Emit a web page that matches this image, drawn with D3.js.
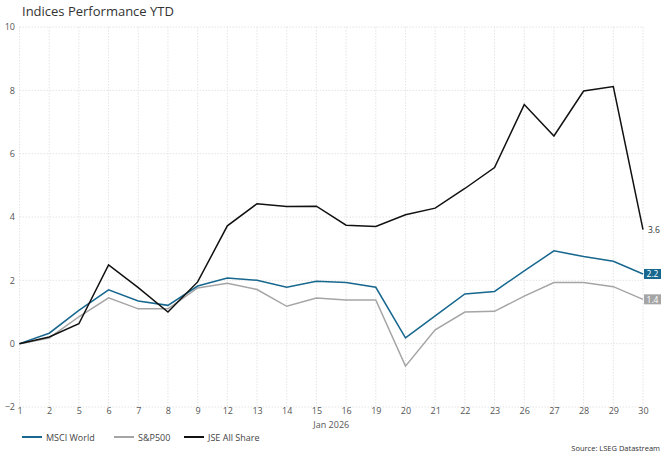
<!DOCTYPE html>
<html><head><meta charset="utf-8">
<script src="https://cdn.jsdelivr.net/npm/d3@7"></script>
<style>
html,body{margin:0;padding:0;background:#fff;}
svg{display:block;font-family:"Open Sans","Noto Sans",sans-serif;}
</style></head>
<body><svg id="c" width="667" height="456"></svg>
<script>
const categories = ["1","2","5","6","7","8","9","12","13","14","15","16","19","20","21","22","23","26","27","28","29","30"];
const msciWorld = [0,0.33,1.05,1.70,1.35,1.21,1.82,2.07,2.0,1.78,1.97,1.93,1.78,0.18,0.88,1.57,1.65,2.3,2.93,2.75,2.6,2.2];
const sp500     = [0,0.18,0.85,1.45,1.1,1.1,1.76,1.91,1.71,1.18,1.44,1.38,1.38,-0.71,0.44,1.0,1.02,1.5,1.93,1.93,1.8,1.4];
const jseAll    = [0,0.21,0.63,2.49,1.77,1.0,1.95,3.72,4.42,4.33,4.34,3.74,3.70,4.07,4.28,4.9,5.56,7.55,6.56,7.98,8.12,3.6];
const yTicks = [-2,0,2,4,6,8,10];
const seriesNames = ["MSCI World","S&P500","JSE All Share"];
const colors = ["#17678f","#a5a5a5","#111111"];
const endLabels = ["2.2","1.4","3.6"];

const svg = d3.select("#c");
const x = d3.scalePoint().domain(categories).range([19.5, 643]);
const y = d3.scaleLinear().domain([-2,10]).range([407, 27]);

// title
svg.append("text").attr("x",22).attr("y",16).attr("font-size",13).attr("fill","#333")
  .text("Indices Performance YTD");

// grid
const g = svg.append("g");
g.selectAll(".vg").data(categories).join("line")
  .attr("x1",d=>x(d)).attr("x2",d=>x(d)).attr("y1",y(10)).attr("y2",y(-2))
  .attr("stroke","#e4e4e4").attr("stroke-width",1).attr("stroke-dasharray","1.5,1.5");
g.selectAll(".hg").data(yTicks).join("line")
  .attr("x1",x(categories[0])).attr("x2",x(categories[categories.length-1]))
  .attr("y1",d=>y(d)).attr("y2",d=>y(d))
  .attr("stroke","#e4e4e4").attr("stroke-width",1).attr("stroke-dasharray","1.5,1.5");

// axes (text only, via d3 axes)
const yAxis = svg.append("g").attr("transform","translate(15,0)")
  .call(d3.axisLeft(y).tickValues(yTicks).tickSize(0).tickPadding(0));
yAxis.select(".domain").remove();
yAxis.selectAll("text").attr("font-size",9).attr("fill","#555").attr("font-family","Open Sans");

const xAxis = svg.append("g").attr("transform","translate(0,407)")
  .call(d3.axisBottom(x).tickSize(0).tickPadding(1));
xAxis.select(".domain").remove();
xAxis.selectAll("text").attr("font-size",9).attr("fill","#555").attr("font-family","Open Sans");

svg.append("text").attr("x",(x("15")+x("16"))/2).attr("y",428).attr("text-anchor","middle")
  .attr("font-size",9).attr("fill","#555").text("Jan 2026");

// lines
const data = [msciWorld, sp500, jseAll];
const line = d3.line().x((d,i)=>x(categories[i])).y(d=>y(d));
[1,0,2].forEach(k=>{
  svg.append("path").datum(data[k]).attr("d",line).attr("fill","none")
    .attr("stroke",colors[k]).attr("stroke-width",1.5).attr("stroke-linejoin","miter");
});

// end labels
const lastX = x(categories[categories.length-1]);
[0,1].forEach(k=>{
  const v = data[k][data[k].length-1];
  svg.append("rect").attr("x",lastX+1).attr("y",y(v)-5).attr("width",17).attr("height",10)
    .attr("fill",colors[k]);
  svg.append("text").attr("x",lastX+9.5).attr("y",y(v)+3.2).attr("text-anchor","middle")
    .attr("font-size",8.5).attr("fill","#fff").text(endLabels[k]);
});
{
  const v = jseAll[jseAll.length-1];
  svg.append("text").attr("x",lastX+5).attr("y",y(v)+3.2)
    .attr("font-size",8.5).attr("fill","#333").text(endLabels[2]);
}

// legend
const legX = [22,114,184];
seriesNames.forEach((n,i)=>{
  svg.append("line").attr("x1",legX[i]).attr("x2",legX[i]+20).attr("y1",437).attr("y2",437)
    .attr("stroke",colors[i]).attr("stroke-width",2);
  svg.append("text").attr("x",legX[i]+24).attr("y",440.5).attr("font-size",9).attr("fill","#444").text(n);
});

svg.append("text").attr("x",660).attr("y",451).attr("text-anchor","end")
  .attr("font-size",7.5).attr("fill","#333").text("Source: LSEG Datastream");
</script></body></html>
